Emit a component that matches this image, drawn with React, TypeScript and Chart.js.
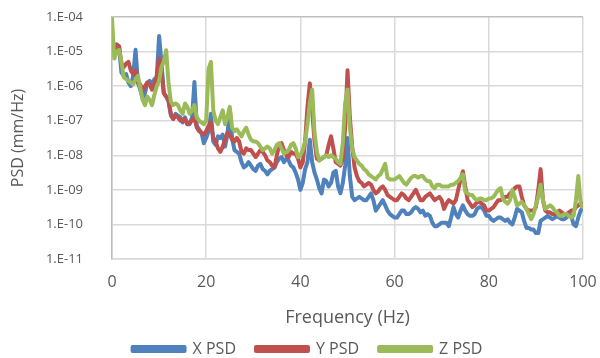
import React, { useEffect, useRef } from "react";
import { Chart, registerables } from "chart.js";

Chart.register(...registerables);

// Frequency grid (Hz): 0 to 100 in 0.5 Hz bins
const FREQ_STEP_HZ = 0.5;
const N_BINS = 201;

// PSD values as log10(mm/Hz), one value per 0.5 Hz bin (rows of 5 Hz)
const X_PSD_LOG10 = [
  -4.7, -4.95, -4.8, -4.85, -5.6, -5.7, -5.65, -5.9, -6.0, -5.7,
  -4.95, -5.9, -6.1, -6.35, -6.2, -5.9, -5.85, -5.95, -5.8, -5.75,
  -4.55, -5.3, -6.2, -6.3, -6.45, -6.85, -6.95, -6.8, -6.85, -6.9,
  -7.05, -6.9, -7.1, -7.1, -6.9, -5.88, -7.15, -7.25, -7.35, -7.65,
  -7.5, -7.3, -6.8, -7.6, -7.7, -7.45, -7.5, -7.4, -7.75, -7.4,
  -6.65, -7.5, -7.85, -7.9, -7.95, -8.2, -8.35, -8.3, -8.2, -8.3,
  -8.4, -8.45, -8.3, -8.25, -8.4, -8.45, -8.55, -8.45, -8.4, -8.35,
  -8.2, -8.1, -8.05, -8.2, -8.1, -8.15, -8.3, -8.35, -8.5, -8.7,
  -9.0, -8.8, -8.4, -8.2, -7.55, -8.2, -8.5, -8.7, -8.95, -9.1,
  -8.7, -8.75, -8.9, -8.8, -8.5, -8.45, -8.9, -9.1, -8.8, -8.3,
  -7.5, -8.6, -9.2, -9.3, -9.25, -9.2, -9.25, -9.3, -9.3, -9.2,
  -9.1, -9.3, -9.6, -9.5, -9.4, -9.3, -9.45, -9.6, -9.7, -9.75,
  -9.8, -9.8, -9.7, -9.6, -9.6, -9.7, -9.7, -9.65, -9.55, -9.5,
  -9.55, -9.65, -9.6, -9.75, -9.7, -9.75, -9.95, -10.05, -10.05, -10.0,
  -9.95, -9.95, -9.95, -10.05, -9.8, -9.5, -9.7, -9.8, -9.6, -9.45,
  -9.6, -9.7, -9.75, -9.75, -9.7, -9.55, -9.5, -9.5, -9.6, -9.75,
  -9.75, -9.85, -9.9, -9.85, -9.8, -9.8, -9.85, -9.9, -9.85, -9.95,
  -10.0, -9.8, -9.55, -9.6, -9.65, -9.9, -10.1, -10.1, -10.15, -10.15,
  -10.25, -10.25, -9.9, -9.85, -9.8, -9.75, -9.8, -9.85, -9.8, -9.75,
  -9.8, -9.85, -9.85, -9.8, -9.7, -9.75, -10.0, -10.05, -9.8, -9.6,
  -9.5,
];

const Y_PSD_LOG10 = [
  -4.8, -5.0, -4.8, -4.85, -5.35, -5.45, -5.35, -5.3, -5.55, -5.65,
  -5.55, -5.9, -5.95, -6.15, -6.0, -5.9, -5.95, -6.1, -5.95, -5.7,
  -5.2, -5.6, -6.2, -6.3, -6.4, -6.8, -6.95, -6.85, -6.9, -7.0,
  -7.0, -6.95, -7.1, -7.05, -7.0, -6.9, -7.2, -7.3, -7.35, -7.4,
  -7.3, -7.15, -7.05, -7.5, -7.6, -7.8, -7.9, -7.75, -7.55, -7.35,
  -7.4, -7.55, -7.6, -7.5, -7.6, -7.9, -7.95, -7.8, -7.85, -7.85,
  -7.95, -8.05, -7.95, -7.85, -7.9, -8.0, -8.15, -8.2, -8.3, -8.35,
  -8.0, -7.7, -7.65, -7.85, -8.0, -8.05, -7.9, -7.95, -7.95, -8.1,
  -8.35, -8.2, -7.6, -6.6, -5.92, -6.7, -7.6, -8.1, -8.15, -8.1,
  -8.05, -8.0, -7.7, -7.45, -7.8, -8.2, -8.25, -8.3, -8.1, -7.2,
  -5.54, -6.9, -7.75, -8.35, -8.6, -8.75, -8.8, -8.9, -8.85, -8.8,
  -8.85, -9.0, -9.1, -9.05, -8.95, -8.9, -9.0, -9.15, -9.2, -9.25,
  -9.3, -9.3, -9.2, -9.1, -9.15, -9.25, -9.3, -9.2, -9.1, -9.0,
  -9.15, -9.3, -9.3, -9.2, -9.15, -9.1, -9.2, -9.3, -9.25, -9.2,
  -9.3, -9.55, -9.4, -9.3, -9.35, -9.4, -9.3, -9.0, -8.7, -8.46,
  -8.9, -9.3, -9.4, -9.5, -9.45, -9.35, -9.35, -9.4, -9.45, -9.6,
  -9.6, -9.55, -9.5, -9.4, -9.3, -9.3, -9.25, -9.2, -9.2, -9.1,
  -9.05, -8.95, -8.9, -8.9, -9.2, -9.45, -9.55, -9.6, -9.6, -9.6,
  -9.5, -9.0, -8.4, -9.3, -9.6, -9.65, -9.65, -9.7, -9.7, -9.65,
  -9.6, -9.65, -9.7, -9.7, -9.65, -9.6, -9.6, -9.5, -9.45, -9.4,
  -9.4,
];

const Z_PSD_LOG10 = [
  -4.05, -5.2, -5.0, -4.95, -5.3, -5.75, -5.8, -5.85, -5.9, -5.95,
  -5.8, -5.7, -6.05, -6.4, -6.55, -6.3, -6.4, -6.55, -6.25, -6.0,
  -5.85, -5.45, -5.3, -4.96, -5.9, -6.45, -6.55, -6.5, -6.55, -6.7,
  -6.8, -6.5, -6.6, -6.8, -6.7, -6.55, -6.9, -7.0, -7.05, -7.1,
  -7.0, -5.5, -5.3, -6.7, -7.0, -7.1, -6.9, -6.7, -7.1, -6.9,
  -6.6, -7.2, -7.3, -7.25, -7.35, -7.45, -7.3, -7.2, -7.4, -7.55,
  -7.6, -7.6, -7.65, -7.75, -7.85, -7.8, -7.75, -7.8, -7.95, -7.85,
  -7.7, -7.65, -7.8, -7.95, -7.9, -7.85, -7.7, -7.65, -7.8, -8.05,
  -8.0, -7.85, -7.6, -7.1, -6.5, -6.1, -7.35, -7.9, -8.15, -8.1,
  -8.05, -8.0, -8.05, -8.0, -8.05, -8.1, -8.2, -8.25, -7.65, -6.5,
  -6.1, -7.2, -7.8, -8.05, -8.15, -8.25, -8.3, -8.4, -8.45, -8.55,
  -8.6, -8.65, -8.7, -8.6, -8.55, -8.4, -8.25, -8.65, -8.7, -8.7,
  -8.7, -8.65, -8.6, -8.7, -8.8, -8.85, -8.75, -8.65, -8.6, -8.6,
  -8.65, -8.6, -8.6, -8.7, -8.75, -8.75, -8.9, -8.95, -8.85, -8.85,
  -8.9, -8.9, -8.9, -8.9, -8.85, -8.85, -8.8, -8.75, -8.65, -8.55,
  -9.05, -9.1, -9.15, -9.15, -9.25, -9.3, -9.25, -9.25, -9.3, -9.3,
  -9.25, -9.25, -9.2, -9.1, -9.0, -8.95, -9.25, -9.35, -9.4, -9.3,
  -9.0, -9.2, -9.45, -9.4, -9.35, -9.45, -9.55, -9.7, -9.85, -9.7,
  -9.45, -9.2, -8.85, -9.3, -9.55, -9.5, -9.45, -9.5, -9.6, -9.65,
  -9.75, -9.75, -9.7, -9.7, -9.75, -9.8, -9.75, -9.3, -8.6, -9.4,
  -9.5,
];

const SERIES_NAMES = ["X PSD", "Y PSD", "Z PSD"];
const SERIES_COLORS = ["#4F81BD", "#C0504D", "#9BBB59"];

const X_TICKS = [0, 20, 40, 60, 80, 100];
const Y_TICK_EXPONENTS = [-11, -10, -9, -8, -7, -6, -5, -4];
const Y_TICK_LABELS = ["1.E-11", "1.E-10", "1.E-09", "1.E-08", "1.E-07", "1.E-06", "1.E-05", "1.E-04"];

const FONT = "'Open Sans', 'DejaVu Sans', sans-serif";
const TEXT_COLOR = "#595959";

function toPoints(logs: number[]) {
  const pts: { x: number; y: number }[] = [];
  for (let i = 0; i < N_BINS && i < logs.length; i++) {
    pts.push({ x: i * FREQ_STEP_HZ, y: Math.pow(10, logs[i]) });
  }
  return pts;
}

export default function App() {
  const ref = useRef<HTMLCanvasElement | null>(null);

  useEffect(() => {
    document.body.style.margin = "0";
    const canvas = ref.current;
    if (!canvas) return;
    const all = [X_PSD_LOG10, Y_PSD_LOG10, Z_PSD_LOG10];
    const chart = new Chart(canvas, {
      type: "line",
      data: {
        datasets: all.map((logs, i) => ({
          label: SERIES_NAMES[i],
          data: toPoints(logs),
          borderColor: SERIES_COLORS[i],
          backgroundColor: SERIES_COLORS[i],
          borderWidth: 4,
          borderJoinStyle: "round" as const,
          borderCapStyle: "round" as const,
          pointRadius: 0,
          tension: 0,
          order: 3 - i,
        })),
      },
      options: {
        animation: false,
        responsive: false,
        devicePixelRatio: 1,
        layout: { padding: { left: 32, right: 17, top: 17, bottom: 0 } },
        plugins: {
          tooltip: { enabled: false },
          legend: {
            position: "bottom",
            maxHeight: 37,
            labels: {
              boxWidth: 52,
              boxHeight: 4,
              padding: 20,
              color: TEXT_COLOR,
              font: { family: FONT, size: 16 },
              sort: (a: any, b: any) => a.datasetIndex - b.datasetIndex,
            },
          },
        },
        scales: {
          x: {
            type: "linear",
            min: 0,
            max: 100,
            afterBuildTicks: (s: any) => {
              s.ticks = X_TICKS.map((v) => ({ value: v }));
            },
            afterFit: (s: any) => {
              s.height = 62;
            },
            grid: {
              color: "#d9d9d9",
              lineWidth: 1.5,
              drawTicks: true,
              tickLength: 14,
              tickColor: "rgba(0,0,0,0)",
            },
            border: { color: "#d9d9d9", width: 1.5 },
            ticks: {
              padding: 0,
              color: TEXT_COLOR,
              font: { family: FONT, size: 16 },
              maxRotation: 0,
            },
            title: {
              display: true,
              text: "Frequency (Hz)",
              color: TEXT_COLOR,
              font: { family: FONT, size: 18 },
              padding: { top: 0, bottom: -8 },
            },
          },
          y: {
            type: "logarithmic",
            min: Math.pow(10, Y_TICK_EXPONENTS[0]),
            max: Math.pow(10, Y_TICK_EXPONENTS[Y_TICK_EXPONENTS.length - 1]),
            afterBuildTicks: (s: any) => {
              s.ticks = Y_TICK_EXPONENTS.map((e) => ({ value: Math.pow(10, e) }));
            },
            afterFit: (s: any) => {
              s.width = 80;
            },
            grid: {
              color: (ctx: any) =>
                ctx.tick && Math.abs(Math.log10(ctx.tick.value) - Y_TICK_EXPONENTS[Y_TICK_EXPONENTS.length - 1]) < 0.01
                  ? "#bfbfbf"
                  : "#d9d9d9",
              lineWidth: 1.5,
              drawTicks: true,
              tickLength: 29,
              tickColor: "rgba(0,0,0,0)",
            },
            border: { color: "#bfbfbf", width: 1.5 },
            ticks: {
              padding: 0,
              color: TEXT_COLOR,
              font: { family: FONT, size: 13 },
              callback: (v: any) => {
                const e = Math.round(Math.log10(Number(v)));
                const idx = Y_TICK_EXPONENTS.indexOf(e);
                return idx >= 0 ? Y_TICK_LABELS[idx] : "";
              },
            },
            title: {
              display: true,
              text: "PSD (mm/Hz)",
              color: TEXT_COLOR,
              font: { family: FONT, size: 16 },
              padding: { top: -23.6, bottom: 0 },
            },
          },
        },
      },
    });
    return () => chart.destroy();
  }, []);

  return (
    <div style={{ width: 600, height: 358, background: "#fff" }}>
      <canvas ref={ref} width={600} height={358} style={{ display: "block" }} />
    </div>
  );
}
